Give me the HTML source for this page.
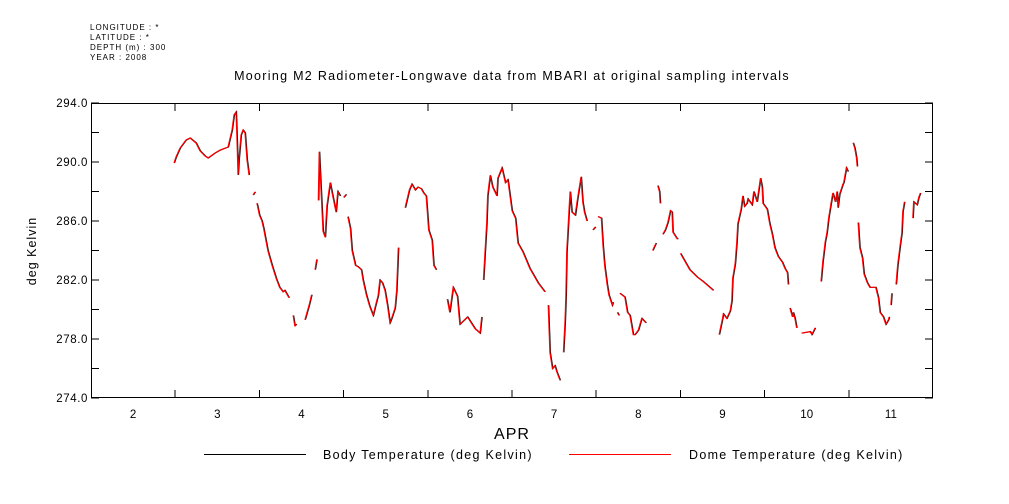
<!DOCTYPE html>
<html><head><meta charset="utf-8"><style>
body{margin:0;background:#fff;}
svg{display:block;font-family:"Liberation Sans",sans-serif;}
</style></head><body>
<svg id="chart" width="1009" height="504" viewBox="0 0 1009 504">
<g font-size="8" fill="#000" letter-spacing="1">
<text x="90" y="30">LONGITUDE : *</text>
<text x="90" y="40">LATITUDE : *</text>
<text x="90" y="50">DEPTH (m) : 300</text>
<text x="90" y="60">YEAR : 2008</text>
</g>
<text x="512" y="80" font-size="12.5" letter-spacing="1.3" text-anchor="middle">Mooring M2 Radiometer-Longwave data from MBARI at original sampling intervals</text>
<text x="36" y="251" font-size="12.5" letter-spacing="1" text-anchor="middle" transform="rotate(-90 36 251)">deg Kelvin</text>
<text x="512" y="439" font-size="16" letter-spacing="1" text-anchor="middle">APR</text>
<rect x="91.5" y="103.5" width="841" height="294" fill="none" stroke="#000" stroke-width="1"/>
<g id="ticks" shape-rendering="crispEdges"></g>
<g id="series"></g>
<g font-size="12.5" letter-spacing="1.3">
<line x1="204" y1="454.5" x2="306" y2="454.5" stroke="#000"/>
<text x="323" y="459">Body Temperature (deg Kelvin)</text>
<line x1="569" y1="454.5" x2="671" y2="454.5" stroke="#f00"/>
<text x="689" y="459">Dome Temperature (deg Kelvin)</text>
</g>
</svg>
<script>
const dayLabels=["2","3","4","5","6","7","8","9","10","11"];
const yTicks=[274,276,278,280,282,284,286,288,290,292,294];
const yLabels=["274.0","278.0","282.0","286.0","290.0","294.0"];
// segments: [days since Apr 2 00:00, K]
const domeT=[
[0.986,1.01,1.057,1.128,1.176,1.247,1.294,1.354,1.39,1.437,1.473,1.532,1.627,1.675,1.698,1.722,1.734,1.746,1.758,1.781,1.805,1.829,1.853,1.876],
[1.924,1.948],
[1.97,2.0,2.03,2.05,2.1,2.15,2.2,2.24,2.28,2.3,2.35],
[2.4,2.42,2.44],
[2.54,2.59,2.62],
[2.66,2.68],
[2.70,2.71,2.755,2.78,2.8,2.84,2.86,2.91,2.93,2.96],
[3.0,3.03],
[3.05,3.08,3.1,3.14,3.17,3.21,3.23,3.27,3.31,3.35,3.38,3.41,3.43,3.46,3.49,3.52,3.55,3.57,3.61,3.63,3.65],
[3.73,3.78,3.81,3.85,3.88,3.92,3.95,3.98,3.99,4.01,4.05,4.07,4.1],
[4.23,4.26,4.3,4.35,4.38,4.47,4.56,4.62,4.64],
[4.66,4.70,4.71,4.74,4.77,4.82,4.83,4.88,4.92,4.95,5.0,5.04,5.07,5.13,5.21,5.31,5.39],
[5.43,5.45,5.48,5.51,5.53,5.57],
[5.61,5.63,5.64,5.65,5.68,5.69,5.71,5.75,5.78,5.82,5.84,5.86,5.89],
[5.96,5.99],
[6.02,6.06,6.08,6.1,6.13,6.15,6.19,6.2],
[6.25,6.27],
[6.28,6.34,6.37,6.4,6.44,6.46,6.5,6.54,6.59],
[6.67,6.71],
[6.73,6.75,6.76],
[6.79,6.82,6.85,6.88,6.9,6.91,6.96,6.97],
[7.0,7.11,7.2,7.27,7.35,7.39],
[7.46,7.5,7.51,7.55,7.59,7.61,7.62,7.65,7.67,7.68,7.72,7.74,7.76,7.79,7.8,7.85,7.87,7.91,7.95,7.97,7.98,8.03,8.06,8.09,8.12,8.16,8.21,8.24,8.27,8.28],
[8.3,8.33,8.34,8.36,8.38],
[8.44,8.54,8.56,8.6],
[8.67,8.69,8.72,8.74,8.76,8.8,8.81,8.84,8.86,8.87,8.89,8.93,8.94,8.97,8.99],
[9.05,9.07,9.09,9.1],
[9.11,9.13,9.16,9.18,9.22,9.25,9.29,9.32,9.35,9.37,9.41,9.44,9.47,9.48],
[9.5,9.51],
[9.56,9.58,9.61,9.63,9.64,9.66],
[9.76,9.77,9.81,9.83,9.85]
];
const domeV=[
[289.93,290.34,290.95,291.49,291.63,291.29,290.75,290.41,290.27,290.47,290.61,290.81,291.02,292.17,293.19,293.39,291.49,289.12,290.27,291.83,292.17,291.97,290.14,289.12],
[287.76,287.97],
[287.2,286.4,286.0,285.5,284.0,283.0,282.1,281.5,281.2,281.3,280.8],
[279.6,278.9,279.0],
[279.3,280.3,281.0],
[282.7,283.4],
[287.4,290.7,285.3,284.9,287.0,288.6,288.0,286.6,288.0,287.7],
[287.6,287.8],
[286.3,285.5,284.0,283.0,282.9,282.7,282.0,281.0,280.2,279.6,280.3,280.95,282.0,281.8,281.3,280.3,279.1,279.4,280.1,281.3,284.2],
[286.9,288.1,288.5,288.1,288.3,288.2,287.9,287.7,286.9,285.4,284.7,283.0,282.7],
[280.7,279.8,281.5,280.9,279.0,279.5,278.7,278.4,279.5],
[282.0,285.9,287.7,289.1,288.3,287.7,288.9,289.6,288.6,288.8,286.7,286.2,284.5,283.9,282.8,281.8,281.2],
[280.3,277.1,276.0,276.2,275.8,275.2],
[277.1,279.2,281.0,283.9,287.1,288.0,286.6,286.4,287.6,289.0,287.3,286.6,286.0],
[285.4,285.6],
[286.3,286.2,284.4,283.0,281.7,281.0,280.3,280.5],
[279.8,279.6],
[281.1,280.85,279.8,279.6,278.3,278.3,278.6,279.4,279.1],
[284.0,284.5],
[288.4,288.0,287.2],
[285.1,285.4,285.9,286.7,286.6,285.25,284.8,284.8],
[283.8,282.7,282.2,281.9,281.5,281.3],
[278.3,279.4,279.7,279.4,279.9,280.6,282.1,283.1,284.6,285.8,286.8,287.7,287.0,287.2,287.5,287.1,288.0,287.3,288.9,288.3,287.2,286.8,285.8,285.1,284.2,283.6,283.2,282.8,282.5,281.7],
[280.1,279.5,279.8,279.4,278.75],
[278.4,278.5,278.3,278.75],
[281.9,283.2,284.6,285.2,286.2,287.6,287.9,287.3,288.0,286.9,287.8,288.5,288.6,289.6,289.35],
[291.3,290.95,290.3,289.7],
[285.9,284.2,283.5,282.4,281.8,281.5,281.5,281.5,280.8,279.8,279.5,279.0,279.3,279.5],
[280.3,281.1],
[281.7,283.0,284.4,285.2,286.6,287.3],
[286.2,287.3,287.1,287.6,287.9]
];
const bodyT=domeT, bodyV=domeV;
const NS="http://www.w3.org/2000/svg";
const X0=91,X1=933,Y0=103,Y1=398;
function xs(t){return X0+t*(X1-X0)/10;}
function ys(v){return Y1-(v-274)*(Y1-Y0)/20;}
const tg=document.getElementById('ticks');
function mk(tag,attrs,parent){const e=document.createElementNS(NS,tag);for(const k in attrs)e.setAttribute(k,attrs[k]);parent.appendChild(e);return e;}
yTicks.forEach(function(v){
  const y=ys(v);
  const a=mk('line',{x1:X0,x2:X0+8,y1:y,y2:y,stroke:'#000'},tg);
  
  
  const b=mk('line',{x1:X1-8,x2:X1,y1:y,y2:y,stroke:'#000'},tg);
  
  
});
yLabels.forEach(function(s){
  const t=mk('text',{x:X0-3,y:ys(parseFloat(s))+4,'font-size':'11.5','letter-spacing':'0.6','text-anchor':'end'},tg);
  t.textContent=s;
  
  
});
for(let i=1;i<10;i++){
  const x=xs(i);
  const a=mk('line',{x1:x,x2:x,y1:Y1-8,y2:Y1,stroke:'#000'},tg);
  
  
  const b=mk('line',{x1:x,x2:x,y1:Y0,y2:Y0+8,stroke:'#000'},tg);
  
  
}
dayLabels.forEach(function(s,i){
  const t=mk('text',{x:xs(i+0.5),y:418,'font-size':'11.5','text-anchor':'middle'},tg);
  t.textContent=s;
  
  
});
const sg=document.getElementById('series');
function draw(T,V,color,w,dx,name){
  T.forEach(function(seg,i){
    const pts=seg.map(function(t,j){return (xs(t)+dx).toFixed(1)+','+ys(V[i][j]).toFixed(1);}).join(' ');
    const p=mk('polyline',{points:pts,fill:'none',stroke:color,'stroke-width':w},sg);
    
    
  });
}
draw(bodyT,bodyV,'#000',1,0.6,'body-temperature-line');
draw(domeT,domeV,'#f00',1.2,0,'dome-temperature-line');
</script>
</body></html>
